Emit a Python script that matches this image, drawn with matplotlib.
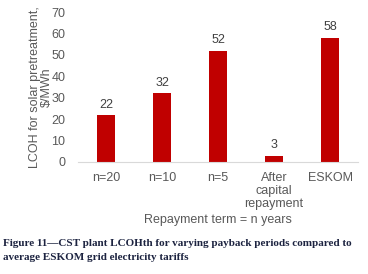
import matplotlib
matplotlib.use("Agg")
import matplotlib.pyplot as plt
import numpy as np

# data
categories = ["n=20", "n=10", "n=5", "After\ncapital\nrepayment", "ESKOM"]
lcoh = [22, 32, 52, 3, 58]
yticks = [0, 10, 20, 30, 40, 50, 60, 70]

plt.rcParams["font.family"] = ["Liberation Sans", "DejaVu Sans"]

fig = plt.figure(figsize=(3.68, 2.74), dpi=100)
ax = fig.add_axes([0.212, 0.409, 0.761, 0.547])

x = np.arange(len(categories))
bars = ax.bar(x, lcoh, width=0.31, color="#C00000")
for xi, v in zip(x, lcoh):
    ax.text(xi, v + 2.0, str(v), ha="center", va="bottom",
            fontsize=9, color="#404040")

ax.set_xlim(-0.5, len(categories) - 0.5)
ax.set_ylim(0, 70)
ax.set_yticks(yticks)
ax.set_xticks(x)
ax.set_xticklabels(categories, linespacing=1.12)
ax.tick_params(axis="both", length=0, labelsize=9, colors="#595959")
ax.tick_params(axis="y", pad=9)
ax.tick_params(axis="x", pad=7)

for s in ["top", "right", "left"]:
    ax.spines[s].set_visible(False)
ax.spines["bottom"].set_color("#d9d9d9")

ax.set_ylabel("LCOH for solar pretreatment,\n$/MWh", fontsize=9,
              color="#595959", linespacing=1.0, labelpad=-1)
ax.set_xlabel("Repayment term = n years", fontsize=9, color="#595959",
              labelpad=3)

fig.text(0.008, 1 - 243 / 274,
         "Figure 11\u2014CST plant LCOHth for varying payback periods compared to",
         fontsize=8.0, fontweight="bold", family="Liberation Serif",
         color="#1c2340", va="center")
fig.text(0.008, 1 - 257 / 274,
         "average ESKOM grid electricity tariffs",
         fontsize=8.0, fontweight="bold", family="Liberation Serif",
         color="#1c2340", va="center")

plt.savefig("out.png", dpi=100)
